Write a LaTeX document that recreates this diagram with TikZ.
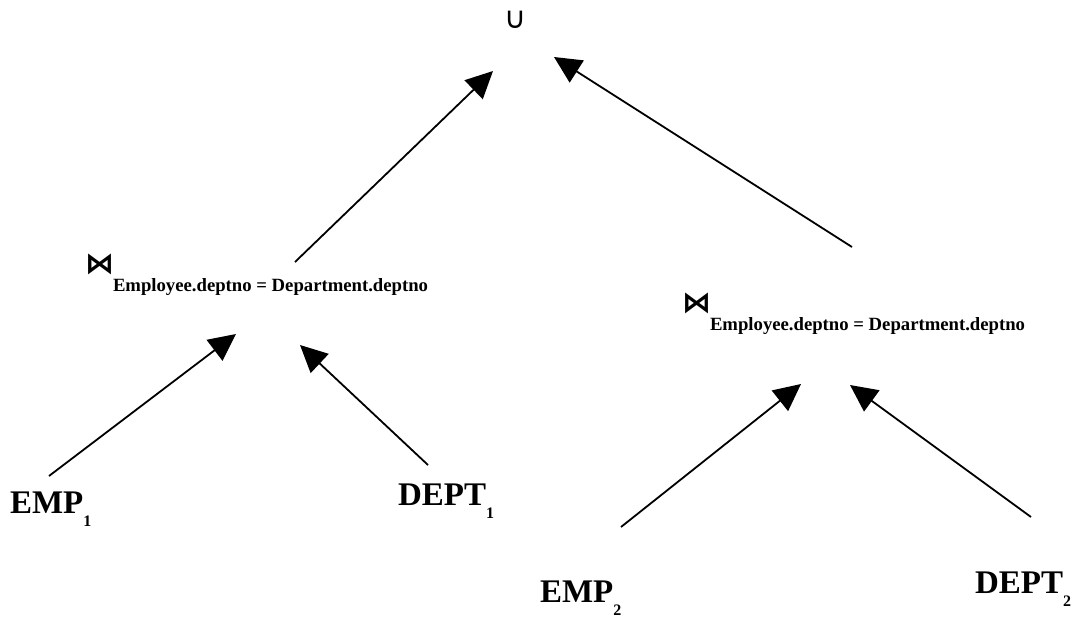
\documentclass[tikz,border=0pt]{standalone}
\usepackage{fontspec}
\setmainfont{Liberation Serif}
\newfontfamily\symfont{DejaVu Sans}
\usetikzlibrary{arrows.meta}

% relation names with a lowered index
\newcommand{\relname}[2]{{\fontsize{33}{33}\selectfont\bfseries #1}\raisebox{-13pt}{\fontsize{16}{16}\selectfont\bfseries #2}}
% join operator with its lowered condition
\newcommand{\joinop}[1]{\makebox[28pt][l]{\symfont\fontsize{29}{29}\selectfont\bfseries ⋈}\raisebox{-18pt}{\fontsize{18.7}{18.7}\selectfont\bfseries #1}}

\begin{document}
\begin{tikzpicture}[x=1pt,y=-1pt,
  lbl/.style={inner sep=0pt,outer sep=0pt,anchor=base west},
  flow/.style={line width=1.8pt,-{Triangle[length=27pt,width=26pt]}}]
\useasboundingbox (0,0) rectangle (1073,619);

% union at the root
\node[inner sep=0pt] (union) at (515,20) {\symfont\fontsize{30}{30}\selectfont ∪};

% the two joins
\node[lbl] (join1) at (85,273) {\joinop{Employee.deptno = Department.deptno}};
\node[lbl] (join2) at (682,312) {\joinop{Employee.deptno = Department.deptno}};

% base relations
\node[lbl] (emp1)  at (10,513)  {\relname{EMP}{1}};
\node[lbl] (dept1) at (398,505) {\relname{DEPT}{1}};
\node[lbl] (emp2)  at (540,602) {\relname{EMP}{2}};
\node[lbl] (dept2) at (975,593) {\relname{DEPT}{2}};

% arrow ends
\coordinate (a1s) at (295,262); \coordinate (a1e) at (493,71);
\coordinate (a2s) at (852,247); \coordinate (a2e) at (554,57);
\coordinate (b1s) at (49,476);  \coordinate (b1e) at (236,334);
\coordinate (b2s) at (428,465); \coordinate (b2e) at (300,345);
\coordinate (c1s) at (621,527); \coordinate (c1e) at (801,384);
\coordinate (c2s) at (1031,517);\coordinate (c2e) at (850,385);

\draw[flow] (a1s) -- (a1e);
\draw[flow] (a2s) -- (a2e);
\draw[flow] (b1s) -- (b1e);
\draw[flow] (b2s) -- (b2e);
\draw[flow] (c1s) -- (c1e);
\draw[flow] (c2s) -- (c2e);
\end{tikzpicture}
\end{document}
